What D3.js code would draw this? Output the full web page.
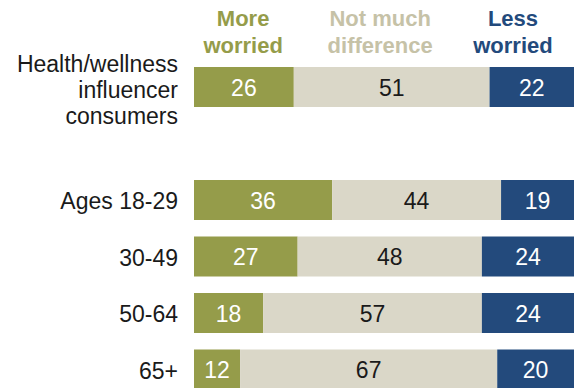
<!DOCTYPE html>
<html>
<head>
<meta charset="utf-8">
<script src="https://cdn.jsdelivr.net/npm/d3@7"></script>
<style>
  html, body { margin: 0; padding: 0; background: #fff; }
  svg { display: block; font-family: "Liberation Sans", Arial, sans-serif; }
</style>
</head>
<body>
<svg id="chart" width="579" height="388"></svg>
<script>
// Row labels (each entry is a list of text lines); the empty entry is a spacer row
const rowLabels = [
  ["Health/wellness", "influencer", "consumers"],
  [],
  ["Ages 18-29"],
  ["30-49"],
  ["50-64"],
  ["65+"]
];
const rowIds = ["consumers", "spacer", "18-29", "30-49", "50-64", "65+"];

// Series values (percent)
const moreWorried   = [26, null, 36, 27, 18, 12];
const notMuchDiff   = [51, null, 44, 48, 57, 67];
const lessWorried   = [22, null, 19, 24, 24, 20];

const seriesNames  = [["More", "worried"], ["Not much", "difference"], ["Less", "worried"]];
const seriesColors = ["#959c4a", "#dad7c8", "#234a7c"];
const headerColors = ["#959c4a", "#c6c2a7", "#234a7c"];
const labelColors  = ["#ffffff", "#1a1a1a", "#ffffff"];
// header anchor positions, in value units along the bar
const headerAt = [12.8, 48.5, 83.1];

const svg = d3.select("#chart");

const x = d3.scaleLinear().domain([0, 99]).range([194, 574]);
const y = d3.scaleBand()
  .domain(rowIds)
  .range([67, 389.5])
  .paddingInner(16.5 / 56.5)
  .paddingOuter(0)
  .align(0);

const rows = rowIds.map((id, i) => ({
  id, label: rowLabels[i],
  vals: [moreWorried[i], notMuchDiff[i], lessWorried[i]]
})).filter(r => r.vals[0] != null);

// Stacked segments with their value labels
const g = svg.append("g");
rows.forEach(r => {
  let acc = 0;
  r.vals.forEach((v, k) => {
    const x0 = acc, x1 = acc + v;
    acc = x1;
    g.append("rect")
      .attr("x", x(x0))
      .attr("y", y(r.id))
      .attr("width", x(x1) - x(x0))
      .attr("height", y.bandwidth())
      .attr("fill", seriesColors[k]);
    g.append("text")
      .attr("x", (x(x0) + x(x1)) / 2)
      .attr("y", y(r.id) + y.bandwidth() / 2 + 8.5)
      .attr("text-anchor", "middle")
      .attr("font-size", 23)
      .attr("fill", labelColors[k])
      .text(v);
  });
});

// Row labels on the left
rows.forEach(r => {
  const n = r.label.length;
  const lh = 26;
  const cy = y(r.id) + y.bandwidth() / 2;
  const firstBase = n === 1 ? cy + 9 : cy - 15;
  const t = svg.append("text")
    .attr("text-anchor", "end")
    .attr("font-size", 23)
    .attr("fill", "#1a1a1a");
  r.label.forEach((line, i) => {
    t.append("tspan")
      .attr("x", 178)
      .attr("y", firstBase + i * lh)
      .text(line);
  });
});

// Series headers
seriesNames.forEach((lines, k) => {
  const t = svg.append("text")
    .attr("text-anchor", "middle")
    .attr("font-size", 22)
    .attr("font-weight", "bold")
    .attr("fill", headerColors[k]);
  lines.forEach((line, i) => {
    t.append("tspan")
      .attr("x", x(headerAt[k]))
      .attr("y", 26 + i * 27)
      .text(line);
  });
});
</script>
</body>
</html>
